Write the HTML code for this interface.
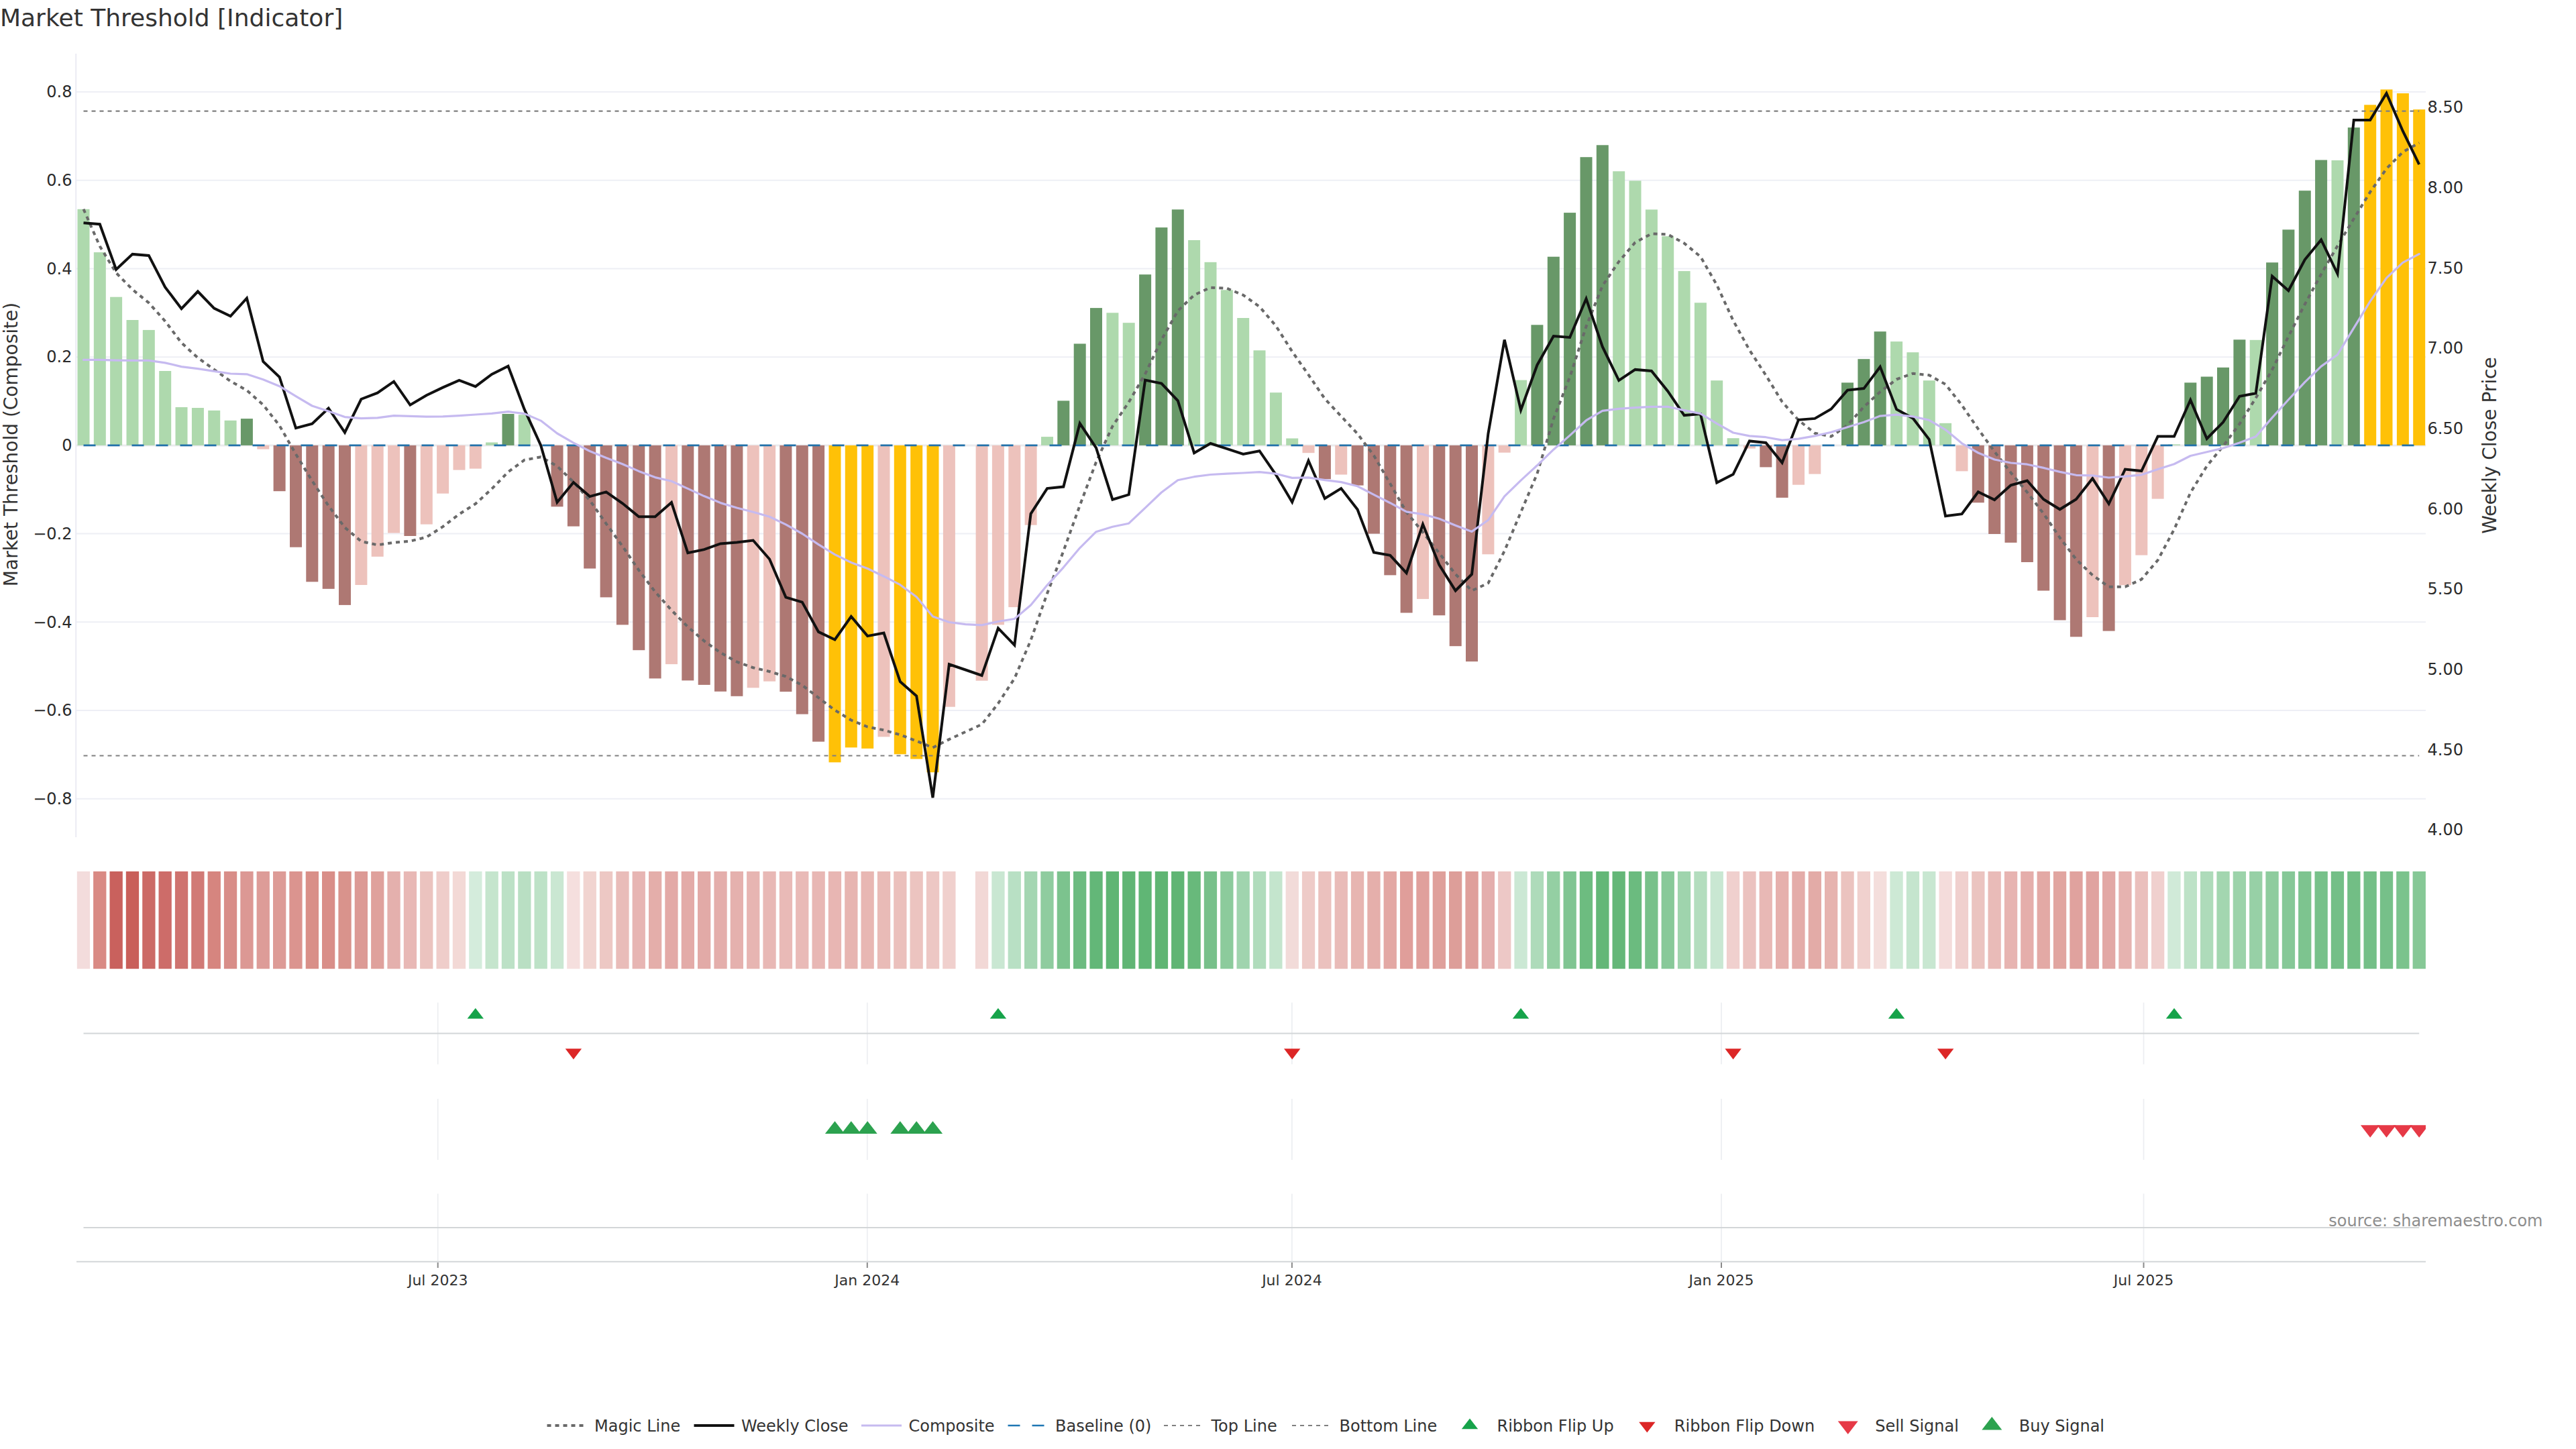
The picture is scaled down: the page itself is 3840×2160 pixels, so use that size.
<!DOCTYPE html><html><head><meta charset="utf-8"><title>Market Threshold [Indicator]</title>
<style>html,body{margin:0;padding:0;background:#fff;}svg{display:block;}text{font-family:"DejaVu Sans","Liberation Sans",sans-serif;}</style></head><body>
<svg width="3840" height="2160" viewBox="0 0 3840 2160">
<rect width="3840" height="2160" fill="#fff"/>
<g stroke="#eeeff5" stroke-width="2">
<line x1="114" x2="3616" y1="1190.7" y2="1190.7"/>
<line x1="114" x2="3616" y1="1059.0" y2="1059.0"/>
<line x1="114" x2="3616" y1="927.3" y2="927.3"/>
<line x1="114" x2="3616" y1="795.6" y2="795.6"/>
<line x1="114" x2="3616" y1="663.9" y2="663.9" stroke="#ebebee" stroke-width="3"/>
<line x1="114" x2="3616" y1="532.2" y2="532.2"/>
<line x1="114" x2="3616" y1="400.5" y2="400.5"/>
<line x1="114" x2="3616" y1="268.8" y2="268.8"/>
<line x1="114" x2="3616" y1="137.1" y2="137.1"/>
</g>
<line x1="113.2" x2="113.2" y1="80" y2="1248" stroke="#ebebf4" stroke-width="2"/>
<g>
<rect x="115.5" y="311.8" width="18.0" height="352.1" fill="#aed9ad"/>
<rect x="139.8" y="376.1" width="18.0" height="287.8" fill="#aed9ad"/>
<rect x="164.1" y="442.7" width="18.0" height="221.2" fill="#aed9ad"/>
<rect x="188.5" y="477.0" width="18.0" height="186.9" fill="#aed9ad"/>
<rect x="212.8" y="491.9" width="18.0" height="172.0" fill="#aed9ad"/>
<rect x="237.2" y="553.0" width="18.0" height="110.9" fill="#aed9ad"/>
<rect x="261.5" y="607.0" width="18.0" height="56.9" fill="#aed9ad"/>
<rect x="285.9" y="608.0" width="18.0" height="55.9" fill="#aed9ad"/>
<rect x="310.2" y="611.9" width="18.0" height="52.0" fill="#aed9ad"/>
<rect x="334.6" y="626.8" width="18.0" height="37.1" fill="#aed9ad"/>
<rect x="358.9" y="624.1" width="18.0" height="39.8" fill="#689868"/>
<rect x="383.3" y="663.9" width="18.0" height="5.7" fill="#edc2bc"/>
<rect x="407.6" y="663.9" width="18.0" height="68.3" fill="#ae7873"/>
<rect x="432.0" y="663.9" width="18.0" height="151.8" fill="#ae7873"/>
<rect x="456.3" y="663.9" width="18.0" height="203.4" fill="#ae7873"/>
<rect x="480.7" y="663.9" width="18.0" height="213.9" fill="#ae7873"/>
<rect x="505.0" y="663.9" width="18.0" height="238.0" fill="#ae7873"/>
<rect x="529.4" y="663.9" width="18.0" height="208.1" fill="#edc2bc"/>
<rect x="553.7" y="663.9" width="18.0" height="165.9" fill="#edc2bc"/>
<rect x="578.1" y="663.9" width="18.0" height="130.6" fill="#edc2bc"/>
<rect x="602.4" y="663.9" width="18.0" height="135.1" fill="#ae7873"/>
<rect x="626.8" y="663.9" width="18.0" height="117.7" fill="#edc2bc"/>
<rect x="651.1" y="663.9" width="18.0" height="71.8" fill="#edc2bc"/>
<rect x="675.5" y="663.9" width="18.0" height="36.7" fill="#edc2bc"/>
<rect x="699.8" y="663.9" width="18.0" height="34.7" fill="#edc2bc"/>
<rect x="724.1" y="659.5" width="18.0" height="4.4" fill="#aed9ad"/>
<rect x="748.5" y="617.0" width="18.0" height="46.9" fill="#689868"/>
<rect x="772.8" y="618.3" width="18.0" height="45.6" fill="#aed9ad"/>
<rect x="821.5" y="663.9" width="18.0" height="91.4" fill="#ae7873"/>
<rect x="845.9" y="663.9" width="18.0" height="120.7" fill="#ae7873"/>
<rect x="870.2" y="663.9" width="18.0" height="183.6" fill="#ae7873"/>
<rect x="894.6" y="663.9" width="18.0" height="226.5" fill="#ae7873"/>
<rect x="918.9" y="663.9" width="18.0" height="267.5" fill="#ae7873"/>
<rect x="943.3" y="663.9" width="18.0" height="305.3" fill="#ae7873"/>
<rect x="967.6" y="663.9" width="18.0" height="347.5" fill="#ae7873"/>
<rect x="992.0" y="663.9" width="18.0" height="326.2" fill="#edc2bc"/>
<rect x="1016.3" y="663.9" width="18.0" height="350.5" fill="#ae7873"/>
<rect x="1040.7" y="663.9" width="18.0" height="357.0" fill="#ae7873"/>
<rect x="1065.0" y="663.9" width="18.0" height="366.9" fill="#ae7873"/>
<rect x="1089.4" y="663.9" width="18.0" height="373.9" fill="#ae7873"/>
<rect x="1113.7" y="663.9" width="18.0" height="361.4" fill="#edc2bc"/>
<rect x="1138.1" y="663.9" width="18.0" height="351.8" fill="#edc2bc"/>
<rect x="1162.4" y="663.9" width="18.0" height="367.2" fill="#ae7873"/>
<rect x="1186.8" y="663.9" width="18.0" height="400.7" fill="#ae7873"/>
<rect x="1211.1" y="663.9" width="18.0" height="441.7" fill="#ae7873"/>
<rect x="1235.5" y="663.9" width="18.0" height="472.5" fill="#ffc107"/>
<rect x="1259.8" y="663.9" width="18.0" height="450.4" fill="#ffc107"/>
<rect x="1284.2" y="663.9" width="18.0" height="451.9" fill="#ffc107"/>
<rect x="1308.5" y="663.9" width="18.0" height="434.5" fill="#edc2bc"/>
<rect x="1332.8" y="663.9" width="18.0" height="460.4" fill="#ffc107"/>
<rect x="1357.2" y="663.9" width="18.0" height="467.5" fill="#ffc107"/>
<rect x="1381.5" y="663.9" width="18.0" height="487.4" fill="#ffc107"/>
<rect x="1405.9" y="663.9" width="18.0" height="389.8" fill="#edc2bc"/>
<rect x="1454.6" y="663.9" width="18.0" height="350.8" fill="#edc2bc"/>
<rect x="1478.9" y="663.9" width="18.0" height="267.5" fill="#edc2bc"/>
<rect x="1503.3" y="663.9" width="18.0" height="241.2" fill="#edc2bc"/>
<rect x="1527.6" y="663.9" width="18.0" height="118.8" fill="#edc2bc"/>
<rect x="1552.0" y="651.1" width="18.0" height="12.8" fill="#aed9ad"/>
<rect x="1576.3" y="597.4" width="18.0" height="66.5" fill="#689868"/>
<rect x="1600.7" y="512.4" width="18.0" height="151.5" fill="#689868"/>
<rect x="1625.0" y="459.1" width="18.0" height="204.8" fill="#689868"/>
<rect x="1649.4" y="466.3" width="18.0" height="197.6" fill="#aed9ad"/>
<rect x="1673.7" y="481.2" width="18.0" height="182.7" fill="#aed9ad"/>
<rect x="1698.1" y="409.2" width="18.0" height="254.7" fill="#689868"/>
<rect x="1722.4" y="339.1" width="18.0" height="324.8" fill="#689868"/>
<rect x="1746.8" y="312.3" width="18.0" height="351.6" fill="#689868"/>
<rect x="1771.1" y="358.0" width="18.0" height="305.9" fill="#aed9ad"/>
<rect x="1795.5" y="390.8" width="18.0" height="273.1" fill="#aed9ad"/>
<rect x="1819.8" y="432.3" width="18.0" height="231.6" fill="#aed9ad"/>
<rect x="1844.2" y="474.0" width="18.0" height="189.9" fill="#aed9ad"/>
<rect x="1868.5" y="522.3" width="18.0" height="141.6" fill="#aed9ad"/>
<rect x="1892.9" y="585.2" width="18.0" height="78.7" fill="#aed9ad"/>
<rect x="1917.2" y="653.5" width="18.0" height="10.4" fill="#aed9ad"/>
<rect x="1941.5" y="663.9" width="18.0" height="11.3" fill="#edc2bc"/>
<rect x="1965.9" y="663.9" width="18.0" height="50.3" fill="#ae7873"/>
<rect x="1990.2" y="663.9" width="18.0" height="43.6" fill="#edc2bc"/>
<rect x="2014.6" y="663.9" width="18.0" height="59.7" fill="#ae7873"/>
<rect x="2038.9" y="663.9" width="18.0" height="131.7" fill="#ae7873"/>
<rect x="2063.3" y="663.9" width="18.0" height="193.5" fill="#ae7873"/>
<rect x="2087.6" y="663.9" width="18.0" height="249.6" fill="#ae7873"/>
<rect x="2112.0" y="663.9" width="18.0" height="229.0" fill="#edc2bc"/>
<rect x="2136.3" y="663.9" width="18.0" height="253.4" fill="#ae7873"/>
<rect x="2160.7" y="663.9" width="18.0" height="299.3" fill="#ae7873"/>
<rect x="2185.0" y="663.9" width="18.0" height="322.2" fill="#ae7873"/>
<rect x="2209.4" y="663.9" width="18.0" height="162.4" fill="#edc2bc"/>
<rect x="2233.7" y="663.9" width="18.0" height="10.8" fill="#edc2bc"/>
<rect x="2258.1" y="566.6" width="18.0" height="97.3" fill="#aed9ad"/>
<rect x="2282.4" y="484.3" width="18.0" height="179.6" fill="#689868"/>
<rect x="2306.8" y="382.7" width="18.0" height="281.2" fill="#689868"/>
<rect x="2331.1" y="317.1" width="18.0" height="346.8" fill="#689868"/>
<rect x="2355.5" y="234.2" width="18.0" height="429.7" fill="#689868"/>
<rect x="2379.8" y="216.3" width="18.0" height="447.6" fill="#689868"/>
<rect x="2404.2" y="255.3" width="18.0" height="408.6" fill="#aed9ad"/>
<rect x="2428.5" y="269.4" width="18.0" height="394.5" fill="#aed9ad"/>
<rect x="2452.9" y="312.4" width="18.0" height="351.5" fill="#aed9ad"/>
<rect x="2477.2" y="352.2" width="18.0" height="311.7" fill="#aed9ad"/>
<rect x="2501.6" y="404.1" width="18.0" height="259.8" fill="#aed9ad"/>
<rect x="2525.9" y="451.3" width="18.0" height="212.6" fill="#aed9ad"/>
<rect x="2550.2" y="567.2" width="18.0" height="96.7" fill="#aed9ad"/>
<rect x="2574.6" y="653.2" width="18.0" height="10.7" fill="#aed9ad"/>
<rect x="2598.9" y="663.9" width="18.0" height="4.7" fill="#edc2bc"/>
<rect x="2623.3" y="663.9" width="18.0" height="32.5" fill="#ae7873"/>
<rect x="2647.6" y="663.9" width="18.0" height="78.0" fill="#ae7873"/>
<rect x="2672.0" y="663.9" width="18.0" height="58.8" fill="#edc2bc"/>
<rect x="2696.3" y="663.9" width="18.0" height="42.7" fill="#edc2bc"/>
<rect x="2745.0" y="570.4" width="18.0" height="93.5" fill="#689868"/>
<rect x="2769.4" y="535.2" width="18.0" height="128.7" fill="#689868"/>
<rect x="2793.7" y="494.2" width="18.0" height="169.7" fill="#689868"/>
<rect x="2818.1" y="509.1" width="18.0" height="154.8" fill="#aed9ad"/>
<rect x="2842.4" y="525.2" width="18.0" height="138.7" fill="#aed9ad"/>
<rect x="2866.8" y="567.2" width="18.0" height="96.7" fill="#aed9ad"/>
<rect x="2891.1" y="630.8" width="18.0" height="33.1" fill="#aed9ad"/>
<rect x="2915.5" y="663.9" width="18.0" height="38.5" fill="#edc2bc"/>
<rect x="2939.8" y="663.9" width="18.0" height="85.4" fill="#ae7873"/>
<rect x="2964.2" y="663.9" width="18.0" height="132.1" fill="#ae7873"/>
<rect x="2988.5" y="663.9" width="18.0" height="145.0" fill="#ae7873"/>
<rect x="3012.9" y="663.9" width="18.0" height="174.1" fill="#ae7873"/>
<rect x="3037.2" y="663.9" width="18.0" height="216.6" fill="#ae7873"/>
<rect x="3061.6" y="663.9" width="18.0" height="260.6" fill="#ae7873"/>
<rect x="3085.9" y="663.9" width="18.0" height="285.4" fill="#ae7873"/>
<rect x="3110.3" y="663.9" width="18.0" height="256.1" fill="#edc2bc"/>
<rect x="3134.6" y="663.9" width="18.0" height="276.7" fill="#ae7873"/>
<rect x="3158.9" y="663.9" width="18.0" height="208.4" fill="#edc2bc"/>
<rect x="3183.3" y="663.9" width="18.0" height="163.7" fill="#edc2bc"/>
<rect x="3207.6" y="663.9" width="18.0" height="79.7" fill="#edc2bc"/>
<rect x="3232.0" y="662.4" width="18.0" height="1.5" fill="#aed9ad"/>
<rect x="3256.3" y="570.4" width="18.0" height="93.5" fill="#689868"/>
<rect x="3280.7" y="561.5" width="18.0" height="102.4" fill="#689868"/>
<rect x="3305.0" y="547.8" width="18.0" height="116.1" fill="#689868"/>
<rect x="3329.4" y="506.3" width="18.0" height="157.6" fill="#689868"/>
<rect x="3353.7" y="506.8" width="18.0" height="157.1" fill="#aed9ad"/>
<rect x="3378.1" y="391.3" width="18.0" height="272.6" fill="#689868"/>
<rect x="3402.4" y="342.3" width="18.0" height="321.6" fill="#689868"/>
<rect x="3426.8" y="284.2" width="18.0" height="379.7" fill="#689868"/>
<rect x="3451.1" y="238.5" width="18.0" height="425.4" fill="#689868"/>
<rect x="3475.5" y="239.0" width="18.0" height="424.9" fill="#aed9ad"/>
<rect x="3499.8" y="190.1" width="18.0" height="473.8" fill="#689868"/>
<rect x="3524.2" y="156.3" width="18.0" height="507.6" fill="#ffc107"/>
<rect x="3548.5" y="133.4" width="18.0" height="530.5" fill="#ffc107"/>
<rect x="3572.9" y="139.1" width="18.0" height="524.8" fill="#ffc107"/>
<rect x="3597.2" y="163.2" width="18.0" height="500.7" fill="#ffc107"/>
</g>
<line x1="124.5" x2="3606.2" y1="663.9" y2="663.9" stroke="#2272aa" stroke-width="2.6" stroke-dasharray="18,18"/>
<line x1="124.5" x2="3606.2" y1="165.7" y2="165.7" stroke="#808080" stroke-width="2.2" stroke-dasharray="6,6"/>
<line x1="124.5" x2="3606.2" y1="1126.5" y2="1126.5" stroke="#808080" stroke-width="2.2" stroke-dasharray="6,6"/>
<path d="M124.5,311.8 L148.8,367.0 L173.1,406.7 L197.5,431.6 L221.8,451.4 L246.2,478.8 L270.5,511.0 L294.9,533.4 L319.2,550.8 L343.6,568.2 L367.9,581.9 L392.3,603.4 L416.6,634.4 L441.0,677.0 L465.3,716.8 L489.7,754.0 L514.0,786.3 L538.4,807.0 L562.7,812.4 L587.1,808.7 L611.4,806.7 L635.8,800.7 L660.1,785.1 L684.5,766.5 L708.8,751.0 L733.1,728.8 L757.5,703.6 L781.8,685.7 L806.2,681.2 L830.5,694.9 L854.9,718.5 L879.2,745.8 L903.6,780.6 L927.9,814.2 L952.3,850.0 L976.6,882.2 L1001.0,909.6 L1025.3,934.4 L1049.7,955.5 L1074.0,972.9 L1098.4,986.6 L1122.7,995.3 L1147.1,1001.0 L1171.4,1008.4 L1195.8,1021.4 L1220.1,1040.0 L1244.5,1058.6 L1268.8,1073.5 L1293.2,1083.5 L1317.5,1088.4 L1341.8,1095.3 L1366.2,1104.6 L1390.5,1114.5 L1414.9,1102.1 L1439.2,1090.9 L1463.6,1079.8 L1487.9,1048.7 L1512.3,1011.4 L1536.6,954.3 L1561.0,884.7 L1585.3,821.5 L1609.7,753.4 L1634.0,688.8 L1658.4,635.4 L1682.7,599.4 L1707.1,557.5 L1731.4,506.5 L1755.8,463.4 L1780.1,439.8 L1804.5,428.6 L1828.8,429.8 L1853.2,439.8 L1877.5,457.1 L1901.9,485.7 L1926.2,524.0 L1950.5,558.7 L1974.9,594.4 L1999.2,620.5 L2023.6,646.6 L2047.9,678.9 L2072.3,721.1 L2096.6,763.5 L2121.0,793.3 L2145.3,824.5 L2169.7,856.0 L2194.0,880.5 L2218.4,869.3 L2242.7,821.3 L2267.1,763.5 L2291.4,706.2 L2315.8,624.2 L2340.1,562.1 L2364.5,486.6 L2388.8,426.0 L2413.2,390.0 L2437.5,361.4 L2461.9,348.4 L2486.2,349.4 L2510.6,362.6 L2534.9,382.5 L2559.2,424.7 L2583.6,477.7 L2607.9,521.8 L2632.3,559.3 L2656.6,599.0 L2681.0,626.3 L2705.3,645.7 L2729.7,650.7 L2754.0,633.8 L2778.4,606.5 L2802.7,584.1 L2827.1,565.5 L2851.4,556.8 L2875.8,559.3 L2900.1,572.9 L2924.5,604.0 L2948.8,639.4 L2973.2,673.3 L2997.5,704.6 L3021.9,733.8 L3046.2,765.5 L3070.6,801.5 L3094.9,833.8 L3119.3,857.4 L3143.6,874.8 L3167.9,874.8 L3192.3,863.6 L3216.6,835.0 L3241.0,789.1 L3265.3,734.4 L3289.7,694.7 L3314.0,665.0 L3338.4,632.0 L3362.7,593.3 L3387.1,551.1 L3411.4,501.4 L3435.8,453.5 L3460.1,408.7 L3484.5,366.5 L3508.8,326.0 L3533.2,286.2 L3557.5,251.4 L3581.9,226.6 L3606.2,212.9" fill="none" stroke="#696969" stroke-width="4" stroke-dasharray="6,6" stroke-linejoin="round"/>
<path d="M124.5,332.2 L148.8,334.2 L173.1,401.7 L197.5,378.9 L221.8,380.9 L246.2,428.1 L270.5,460.1 L294.9,434.5 L319.2,459.6 L343.6,471.3 L367.9,444.5 L392.3,538.9 L416.6,562.0 L441.0,638.2 L465.3,631.7 L489.7,608.5 L514.0,644.7 L538.4,595.0 L562.7,585.6 L587.1,568.7 L611.4,603.7 L635.8,589.3 L660.1,577.6 L684.5,567.0 L708.8,576.2 L733.1,558.0 L757.5,545.8 L781.8,610.4 L806.2,663.9 L830.5,748.8 L854.9,719.0 L879.2,740.1 L903.6,733.4 L927.9,750.3 L952.3,770.2 L976.6,770.2 L1001.0,749.1 L1025.3,824.1 L1049.7,819.1 L1074.0,810.4 L1098.4,808.4 L1122.7,805.5 L1147.1,833.5 L1171.4,890.4 L1195.8,897.6 L1220.1,941.9 L1244.5,953.5 L1268.8,919.0 L1293.2,948.1 L1317.5,943.5 L1341.8,1016.0 L1366.2,1037.5 L1390.5,1189.1 L1414.9,990.3 L1439.2,998.5 L1463.6,1007.0 L1487.9,936.4 L1512.3,961.7 L1536.6,765.8 L1561.0,728.1 L1585.3,725.6 L1609.7,631.2 L1634.0,667.7 L1658.4,744.7 L1682.7,737.3 L1707.1,566.6 L1731.4,571.6 L1755.8,597.4 L1780.1,675.2 L1804.5,661.0 L1828.8,668.9 L1853.2,676.9 L1877.5,672.2 L1901.9,707.5 L1926.2,748.4 L1950.5,686.8 L1974.9,743.0 L1999.2,728.1 L2023.6,759.6 L2047.9,823.5 L2072.3,827.8 L2096.6,854.2 L2121.0,781.5 L2145.3,841.8 L2169.7,880.5 L2194.0,856.0 L2218.4,646.6 L2242.7,506.5 L2267.1,611.3 L2291.4,544.2 L2315.8,501.1 L2340.1,503.0 L2364.5,445.3 L2388.8,517.0 L2413.2,567.1 L2437.5,550.9 L2461.9,552.9 L2486.2,583.2 L2510.6,619.1 L2534.9,617.1 L2559.2,719.5 L2583.6,707.1 L2607.9,657.4 L2632.3,659.9 L2656.6,689.7 L2681.0,625.8 L2705.3,623.9 L2729.7,609.7 L2754.0,581.6 L2778.4,579.1 L2802.7,546.8 L2827.1,610.2 L2851.4,623.4 L2875.8,655.1 L2900.1,769.2 L2924.5,766.2 L2948.8,733.2 L2973.2,745.1 L2997.5,723.2 L3021.9,716.5 L3046.2,744.3 L3070.6,759.3 L3094.9,744.3 L3119.3,713.3 L3143.6,751.0 L3167.9,699.6 L3192.3,702.1 L3216.6,650.6 L3241.0,650.6 L3265.3,596.3 L3289.7,654.0 L3314.0,629.3 L3338.4,590.8 L3362.7,586.3 L3387.1,411.8 L3411.4,433.3 L3435.8,387.0 L3460.1,357.4 L3484.5,408.1 L3508.8,178.9 L3533.2,178.9 L3557.5,139.1 L3581.9,195.5 L3606.2,245.2" fill="none" stroke="#111" stroke-width="4" stroke-linejoin="miter" stroke-miterlimit="4"/>
<path d="M124.5,536.4 L148.8,536.4 L173.1,537.1 L197.5,537.4 L221.8,537.4 L246.2,540.9 L270.5,546.6 L294.9,549.6 L319.2,553.3 L343.6,557.0 L367.9,557.8 L392.3,565.7 L416.6,575.7 L441.0,590.6 L465.3,605.0 L489.7,612.9 L514.0,621.6 L538.4,623.6 L562.7,622.9 L587.1,619.6 L611.4,620.4 L635.8,621.1 L660.1,620.9 L684.5,619.6 L708.8,618.0 L733.1,616.3 L757.5,613.7 L781.8,616.6 L806.2,627.1 L830.5,646.0 L854.9,660.1 L879.2,672.5 L903.6,682.5 L927.9,691.7 L952.3,702.4 L976.6,711.6 L1001.0,717.3 L1025.3,728.4 L1049.7,739.6 L1074.0,749.6 L1098.4,757.0 L1122.7,763.2 L1147.1,770.2 L1171.4,781.9 L1195.8,795.5 L1220.1,811.7 L1244.5,826.6 L1268.8,838.5 L1293.2,847.5 L1317.5,859.2 L1341.8,871.7 L1366.2,889.7 L1390.5,919.0 L1414.9,927.5 L1439.2,930.7 L1463.6,931.9 L1487.9,926.5 L1512.3,922.5 L1536.6,902.1 L1561.0,872.3 L1585.3,845.8 L1609.7,816.8 L1634.0,792.7 L1658.4,785.2 L1682.7,780.2 L1707.1,757.1 L1731.4,734.0 L1755.8,715.7 L1780.1,710.7 L1804.5,707.5 L1828.8,706.2 L1853.2,705.0 L1877.5,703.7 L1901.9,706.2 L1926.2,712.4 L1950.5,711.9 L1974.9,715.7 L1999.2,718.6 L2023.6,724.8 L2047.9,737.3 L2072.3,749.7 L2096.6,762.9 L2121.0,766.6 L2145.3,773.3 L2169.7,783.2 L2194.0,792.4 L2218.4,775.3 L2242.7,739.8 L2267.1,716.1 L2291.4,693.8 L2315.8,670.2 L2340.1,649.1 L2364.5,626.7 L2388.8,612.3 L2413.2,609.3 L2437.5,607.6 L2461.9,606.3 L2486.2,606.3 L2510.6,611.6 L2534.9,616.6 L2559.2,631.3 L2583.6,645.0 L2607.9,649.9 L2632.3,651.7 L2656.6,656.1 L2681.0,654.2 L2705.3,649.9 L2729.7,644.2 L2754.0,636.8 L2778.4,629.3 L2802.7,620.1 L2827.1,618.1 L2851.4,620.9 L2875.8,626.3 L2900.1,640.6 L2924.5,660.8 L2948.8,675.0 L2973.2,685.0 L2997.5,690.0 L3021.9,692.2 L3046.2,697.4 L3070.6,703.4 L3094.9,708.3 L3119.3,708.8 L3143.6,712.0 L3167.9,710.1 L3192.3,707.8 L3216.6,699.6 L3241.0,691.7 L3265.3,679.5 L3289.7,673.7 L3314.0,668.0 L3338.4,659.9 L3362.7,650.8 L3387.1,622.6 L3411.4,595.8 L3435.8,569.7 L3460.1,546.1 L3484.5,528.7 L3508.8,488.9 L3533.2,449.2 L3557.5,414.3 L3581.9,391.3 L3606.2,378.6" fill="none" stroke="#c6baf0" stroke-width="3.2" stroke-linejoin="round" stroke-linecap="round"/>
<g>
<rect x="114.8" y="1299" width="19.3" height="145.2" fill="#f3dcdc"/>
<rect x="139.1" y="1299" width="19.3" height="145.2" fill="#d98a84"/>
<rect x="163.5" y="1299" width="19.3" height="145.2" fill="#c9615d"/>
<rect x="187.8" y="1299" width="19.3" height="145.2" fill="#c95f5a"/>
<rect x="212.2" y="1299" width="19.3" height="145.2" fill="#cc6a66"/>
<rect x="236.5" y="1299" width="19.3" height="145.2" fill="#cd6c69"/>
<rect x="260.9" y="1299" width="19.3" height="145.2" fill="#cf736f"/>
<rect x="285.2" y="1299" width="19.3" height="145.2" fill="#d17a76"/>
<rect x="309.6" y="1299" width="19.3" height="145.2" fill="#d6857f"/>
<rect x="333.9" y="1299" width="19.3" height="145.2" fill="#d88d88"/>
<rect x="358.3" y="1299" width="19.3" height="145.2" fill="#dc9894"/>
<rect x="382.6" y="1299" width="19.3" height="145.2" fill="#dd9c98"/>
<rect x="407.0" y="1299" width="19.3" height="145.2" fill="#dd9b96"/>
<rect x="431.3" y="1299" width="19.3" height="145.2" fill="#db948f"/>
<rect x="455.7" y="1299" width="19.3" height="145.2" fill="#d98f88"/>
<rect x="480.0" y="1299" width="19.3" height="145.2" fill="#d98e88"/>
<rect x="504.4" y="1299" width="19.3" height="145.2" fill="#d9938c"/>
<rect x="528.7" y="1299" width="19.3" height="145.2" fill="#dc9a95"/>
<rect x="553.1" y="1299" width="19.3" height="145.2" fill="#dfa19c"/>
<rect x="577.4" y="1299" width="19.3" height="145.2" fill="#e4b0ad"/>
<rect x="601.8" y="1299" width="19.3" height="145.2" fill="#e8b8b5"/>
<rect x="626.1" y="1299" width="19.3" height="145.2" fill="#ebc3bf"/>
<rect x="650.5" y="1299" width="19.3" height="145.2" fill="#efcdca"/>
<rect x="674.8" y="1299" width="19.3" height="145.2" fill="#f3d9d6"/>
<rect x="699.2" y="1299" width="19.3" height="145.2" fill="#d4ecdc"/>
<rect x="723.5" y="1299" width="19.3" height="145.2" fill="#c5e5cd"/>
<rect x="747.8" y="1299" width="19.3" height="145.2" fill="#bce1c6"/>
<rect x="772.2" y="1299" width="19.3" height="145.2" fill="#b9dfc3"/>
<rect x="796.5" y="1299" width="19.3" height="145.2" fill="#bde2c7"/>
<rect x="820.9" y="1299" width="19.3" height="145.2" fill="#cae7d2"/>
<rect x="845.2" y="1299" width="19.3" height="145.2" fill="#f5dfde"/>
<rect x="869.6" y="1299" width="19.3" height="145.2" fill="#f1d4d0"/>
<rect x="893.9" y="1299" width="19.3" height="145.2" fill="#edc8c4"/>
<rect x="918.3" y="1299" width="19.3" height="145.2" fill="#e9bcb9"/>
<rect x="942.6" y="1299" width="19.3" height="145.2" fill="#e7b5b3"/>
<rect x="967.0" y="1299" width="19.3" height="145.2" fill="#e4aeaa"/>
<rect x="991.3" y="1299" width="19.3" height="145.2" fill="#e3a9a6"/>
<rect x="1015.7" y="1299" width="19.3" height="145.2" fill="#e3aba8"/>
<rect x="1040.0" y="1299" width="19.3" height="145.2" fill="#e2aaa7"/>
<rect x="1064.4" y="1299" width="19.3" height="145.2" fill="#e4aeab"/>
<rect x="1088.7" y="1299" width="19.3" height="145.2" fill="#e5b1ae"/>
<rect x="1113.1" y="1299" width="19.3" height="145.2" fill="#e7b5b2"/>
<rect x="1137.4" y="1299" width="19.3" height="145.2" fill="#e8b8b5"/>
<rect x="1161.8" y="1299" width="19.3" height="145.2" fill="#e9bab7"/>
<rect x="1186.1" y="1299" width="19.3" height="145.2" fill="#e9bab7"/>
<rect x="1210.5" y="1299" width="19.3" height="145.2" fill="#e8b7b4"/>
<rect x="1234.8" y="1299" width="19.3" height="145.2" fill="#e8b6b3"/>
<rect x="1259.2" y="1299" width="19.3" height="145.2" fill="#e7b5b1"/>
<rect x="1283.5" y="1299" width="19.3" height="145.2" fill="#e8b7b3"/>
<rect x="1307.9" y="1299" width="19.3" height="145.2" fill="#e9bbb7"/>
<rect x="1332.2" y="1299" width="19.3" height="145.2" fill="#ebc0bc"/>
<rect x="1356.5" y="1299" width="19.3" height="145.2" fill="#ecc4c0"/>
<rect x="1380.9" y="1299" width="19.3" height="145.2" fill="#edc7c4"/>
<rect x="1405.2" y="1299" width="19.3" height="145.2" fill="#f0d0cd"/>
<rect x="1453.9" y="1299" width="19.3" height="145.2" fill="#f2d8d6"/>
<rect x="1478.3" y="1299" width="19.3" height="145.2" fill="#c9e7d2"/>
<rect x="1502.6" y="1299" width="19.3" height="145.2" fill="#b8e0c4"/>
<rect x="1527.0" y="1299" width="19.3" height="145.2" fill="#a4d6b2"/>
<rect x="1551.3" y="1299" width="19.3" height="145.2" fill="#8fcc9f"/>
<rect x="1575.7" y="1299" width="19.3" height="145.2" fill="#7cc38e"/>
<rect x="1600.0" y="1299" width="19.3" height="145.2" fill="#6cbb80"/>
<rect x="1624.4" y="1299" width="19.3" height="145.2" fill="#63b778"/>
<rect x="1648.7" y="1299" width="19.3" height="145.2" fill="#5fb574"/>
<rect x="1673.1" y="1299" width="19.3" height="145.2" fill="#60b574"/>
<rect x="1697.4" y="1299" width="19.3" height="145.2" fill="#60b675"/>
<rect x="1721.8" y="1299" width="19.3" height="145.2" fill="#5fb573"/>
<rect x="1746.1" y="1299" width="19.3" height="145.2" fill="#60b574"/>
<rect x="1770.5" y="1299" width="19.3" height="145.2" fill="#68b97b"/>
<rect x="1794.8" y="1299" width="19.3" height="145.2" fill="#77c08a"/>
<rect x="1819.2" y="1299" width="19.3" height="145.2" fill="#8ccb9c"/>
<rect x="1843.5" y="1299" width="19.3" height="145.2" fill="#a0d4ae"/>
<rect x="1867.9" y="1299" width="19.3" height="145.2" fill="#b0dcbc"/>
<rect x="1892.2" y="1299" width="19.3" height="145.2" fill="#c4e5cd"/>
<rect x="1916.6" y="1299" width="19.3" height="145.2" fill="#f2dbd9"/>
<rect x="1940.9" y="1299" width="19.3" height="145.2" fill="#eecbc8"/>
<rect x="1965.2" y="1299" width="19.3" height="145.2" fill="#ebc1be"/>
<rect x="1989.6" y="1299" width="19.3" height="145.2" fill="#e9bbb8"/>
<rect x="2013.9" y="1299" width="19.3" height="145.2" fill="#e7b5b1"/>
<rect x="2038.3" y="1299" width="19.3" height="145.2" fill="#e5afab"/>
<rect x="2062.6" y="1299" width="19.3" height="145.2" fill="#e3a8a4"/>
<rect x="2087.0" y="1299" width="19.3" height="145.2" fill="#e09e9a"/>
<rect x="2111.3" y="1299" width="19.3" height="145.2" fill="#e0a09c"/>
<rect x="2135.7" y="1299" width="19.3" height="145.2" fill="#dfa09b"/>
<rect x="2160.0" y="1299" width="19.3" height="145.2" fill="#dd9e99"/>
<rect x="2184.4" y="1299" width="19.3" height="145.2" fill="#df9f9b"/>
<rect x="2208.7" y="1299" width="19.3" height="145.2" fill="#e4aead"/>
<rect x="2233.1" y="1299" width="19.3" height="145.2" fill="#edc8c6"/>
<rect x="2257.4" y="1299" width="19.3" height="145.2" fill="#cbe8d4"/>
<rect x="2281.8" y="1299" width="19.3" height="145.2" fill="#aedbba"/>
<rect x="2306.1" y="1299" width="19.3" height="145.2" fill="#94cfa3"/>
<rect x="2330.5" y="1299" width="19.3" height="145.2" fill="#80c592"/>
<rect x="2354.8" y="1299" width="19.3" height="145.2" fill="#6dbc80"/>
<rect x="2379.2" y="1299" width="19.3" height="145.2" fill="#63b777"/>
<rect x="2403.5" y="1299" width="19.3" height="145.2" fill="#64b778"/>
<rect x="2427.9" y="1299" width="19.3" height="145.2" fill="#6bbb7f"/>
<rect x="2452.2" y="1299" width="19.3" height="145.2" fill="#78c18a"/>
<rect x="2476.6" y="1299" width="19.3" height="145.2" fill="#88c999"/>
<rect x="2500.9" y="1299" width="19.3" height="145.2" fill="#9fd4ad"/>
<rect x="2525.3" y="1299" width="19.3" height="145.2" fill="#b3ddbe"/>
<rect x="2549.6" y="1299" width="19.3" height="145.2" fill="#c9e7d2"/>
<rect x="2573.9" y="1299" width="19.3" height="145.2" fill="#f0d0ce"/>
<rect x="2598.3" y="1299" width="19.3" height="145.2" fill="#ebc2bf"/>
<rect x="2622.6" y="1299" width="19.3" height="145.2" fill="#e8b8b5"/>
<rect x="2647.0" y="1299" width="19.3" height="145.2" fill="#e6b0ad"/>
<rect x="2671.3" y="1299" width="19.3" height="145.2" fill="#e4aca9"/>
<rect x="2695.7" y="1299" width="19.3" height="145.2" fill="#e3aba7"/>
<rect x="2720.0" y="1299" width="19.3" height="145.2" fill="#e6b3af"/>
<rect x="2744.4" y="1299" width="19.3" height="145.2" fill="#ebc3bf"/>
<rect x="2768.7" y="1299" width="19.3" height="145.2" fill="#f0d1ce"/>
<rect x="2793.1" y="1299" width="19.3" height="145.2" fill="#f4dedc"/>
<rect x="2817.4" y="1299" width="19.3" height="145.2" fill="#cde9d5"/>
<rect x="2841.8" y="1299" width="19.3" height="145.2" fill="#c5e5ce"/>
<rect x="2866.1" y="1299" width="19.3" height="145.2" fill="#c8e7d1"/>
<rect x="2890.5" y="1299" width="19.3" height="145.2" fill="#f4dcdb"/>
<rect x="2914.8" y="1299" width="19.3" height="145.2" fill="#f0d0ce"/>
<rect x="2939.2" y="1299" width="19.3" height="145.2" fill="#ebc4c0"/>
<rect x="2963.5" y="1299" width="19.3" height="145.2" fill="#e9bbb8"/>
<rect x="2987.9" y="1299" width="19.3" height="145.2" fill="#e7b4b1"/>
<rect x="3012.2" y="1299" width="19.3" height="145.2" fill="#e5aeab"/>
<rect x="3036.6" y="1299" width="19.3" height="145.2" fill="#e3a9a5"/>
<rect x="3060.9" y="1299" width="19.3" height="145.2" fill="#e1a5a0"/>
<rect x="3085.3" y="1299" width="19.3" height="145.2" fill="#e0a29e"/>
<rect x="3109.6" y="1299" width="19.3" height="145.2" fill="#e0a3a0"/>
<rect x="3134.0" y="1299" width="19.3" height="145.2" fill="#e2a8a5"/>
<rect x="3158.3" y="1299" width="19.3" height="145.2" fill="#e6b3b0"/>
<rect x="3182.6" y="1299" width="19.3" height="145.2" fill="#eabfbc"/>
<rect x="3207.0" y="1299" width="19.3" height="145.2" fill="#f0d0ce"/>
<rect x="3231.3" y="1299" width="19.3" height="145.2" fill="#d0ead8"/>
<rect x="3255.7" y="1299" width="19.3" height="145.2" fill="#bde2c7"/>
<rect x="3280.0" y="1299" width="19.3" height="145.2" fill="#aedbba"/>
<rect x="3304.4" y="1299" width="19.3" height="145.2" fill="#a3d6b0"/>
<rect x="3328.7" y="1299" width="19.3" height="145.2" fill="#9cd3aa"/>
<rect x="3353.1" y="1299" width="19.3" height="145.2" fill="#97d0a6"/>
<rect x="3377.4" y="1299" width="19.3" height="145.2" fill="#8ecc9e"/>
<rect x="3401.8" y="1299" width="19.3" height="145.2" fill="#86c897"/>
<rect x="3426.1" y="1299" width="19.3" height="145.2" fill="#7dc48f"/>
<rect x="3450.5" y="1299" width="19.3" height="145.2" fill="#77c18a"/>
<rect x="3474.8" y="1299" width="19.3" height="145.2" fill="#74bf87"/>
<rect x="3499.2" y="1299" width="19.3" height="145.2" fill="#72be85"/>
<rect x="3523.5" y="1299" width="19.3" height="145.2" fill="#74bf87"/>
<rect x="3547.9" y="1299" width="19.3" height="145.2" fill="#76c089"/>
<rect x="3572.2" y="1299" width="19.3" height="145.2" fill="#7bc38d"/>
<rect x="3596.6" y="1299" width="19.3" height="145.2" fill="#86c896"/>
</g>
<g stroke="#eceef1" stroke-width="1.7">
<line x1="652.7" x2="652.7" y1="1494.5" y2="1586.6"/>
<line x1="652.7" x2="652.7" y1="1638.0" y2="1729.0"/>
<line x1="652.7" x2="652.7" y1="1779.4" y2="1880.7"/>
<line x1="1292.8" x2="1292.8" y1="1494.5" y2="1586.6"/>
<line x1="1292.8" x2="1292.8" y1="1638.0" y2="1729.0"/>
<line x1="1292.8" x2="1292.8" y1="1779.4" y2="1880.7"/>
<line x1="1925.9" x2="1925.9" y1="1494.5" y2="1586.6"/>
<line x1="1925.9" x2="1925.9" y1="1638.0" y2="1729.0"/>
<line x1="1925.9" x2="1925.9" y1="1779.4" y2="1880.7"/>
<line x1="2566.0" x2="2566.0" y1="1494.5" y2="1586.6"/>
<line x1="2566.0" x2="2566.0" y1="1638.0" y2="1729.0"/>
<line x1="2566.0" x2="2566.0" y1="1779.4" y2="1880.7"/>
<line x1="3195.5" x2="3195.5" y1="1494.5" y2="1586.6"/>
<line x1="3195.5" x2="3195.5" y1="1638.0" y2="1729.0"/>
<line x1="3195.5" x2="3195.5" y1="1779.4" y2="1880.7"/>
</g>
<line x1="124.5" x2="3606.2" y1="1540.5" y2="1540.5" stroke="#d3d6d8" stroke-width="2.1"/>
<line x1="124.5" x2="3606.2" y1="1830.0" y2="1830.0" stroke="#d3d6d8" stroke-width="2.1"/>
<line x1="114" x2="3616" y1="1880.8" y2="1880.8" stroke="#d3d6d8" stroke-width="2.1"/>
<line x1="652.7" x2="652.7" y1="1882" y2="1890" stroke="#8a8a8a" stroke-width="2"/>
<text x="652.7" y="1915.9" font-size="22" fill="#333" text-anchor="middle">Jul 2023</text>
<line x1="1292.8" x2="1292.8" y1="1882" y2="1890" stroke="#8a8a8a" stroke-width="2"/>
<text x="1292.8" y="1915.9" font-size="22" fill="#333" text-anchor="middle">Jan 2024</text>
<line x1="1925.9" x2="1925.9" y1="1882" y2="1890" stroke="#8a8a8a" stroke-width="2"/>
<text x="1925.9" y="1915.9" font-size="22" fill="#333" text-anchor="middle">Jul 2024</text>
<line x1="2566.0" x2="2566.0" y1="1882" y2="1890" stroke="#8a8a8a" stroke-width="2"/>
<text x="2566.0" y="1915.9" font-size="22" fill="#333" text-anchor="middle">Jan 2025</text>
<line x1="3195.5" x2="3195.5" y1="1882" y2="1890" stroke="#8a8a8a" stroke-width="2"/>
<text x="3195.5" y="1915.9" font-size="22" fill="#333" text-anchor="middle">Jul 2025</text>
<path d="M696.6,1518.6 H721.0 L708.8,1502.7 Z" fill="#16a34a"/>
<path d="M1475.7,1518.6 H1500.2 L1487.9,1502.7 Z" fill="#16a34a"/>
<path d="M2254.8,1518.6 H2279.3 L2267.1,1502.7 Z" fill="#16a34a"/>
<path d="M2814.8,1518.6 H2839.3 L2827.1,1502.7 Z" fill="#16a34a"/>
<path d="M3228.8,1518.6 H3253.2 L3241.0,1502.7 Z" fill="#16a34a"/>
<path d="M842.7,1563.3 H867.1 L854.9,1579.2 Z" fill="#dc2626"/>
<path d="M1914.0,1563.3 H1938.4 L1926.2,1579.2 Z" fill="#dc2626"/>
<path d="M2571.4,1563.3 H2595.8 L2583.6,1579.2 Z" fill="#dc2626"/>
<path d="M2887.9,1563.3 H2912.4 L2900.1,1579.2 Z" fill="#dc2626"/>
<path d="M1229.9,1690.1 H1259.0 L1244.5,1671.2 Z" fill="#2ca24f"/>
<path d="M1254.3,1690.1 H1283.4 L1268.8,1671.2 Z" fill="#2ca24f"/>
<path d="M1278.6,1690.1 H1307.7 L1293.2,1671.2 Z" fill="#2ca24f"/>
<path d="M1327.3,1690.1 H1356.4 L1341.8,1671.2 Z" fill="#2ca24f"/>
<path d="M1351.6,1690.1 H1380.7 L1366.2,1671.2 Z" fill="#2ca24f"/>
<path d="M1376.0,1690.1 H1405.1 L1390.5,1671.2 Z" fill="#2ca24f"/>
<clipPath id="cp"><rect x="114" y="1600" width="3502" height="200"/></clipPath><g clip-path="url(#cp)">
<path d="M3518.9,1677.2 H3547.5 L3533.2,1695.8 Z" fill="#e63946"/>
<path d="M3543.2,1677.2 H3571.8 L3557.5,1695.8 Z" fill="#e63946"/>
<path d="M3567.5,1677.2 H3596.2 L3581.9,1695.8 Z" fill="#e63946"/>
<path d="M3591.9,1677.2 H3620.5 L3606.2,1695.8 Z" fill="#e63946"/>
</g>
<text x="0" y="39.4" font-size="36" fill="#333">Market Threshold [Indicator]</text>
<text x="107.5" y="1198.9" font-size="24" fill="#2b2b2b" text-anchor="end">−0.8</text>
<text x="107.5" y="1067.2" font-size="24" fill="#2b2b2b" text-anchor="end">−0.6</text>
<text x="107.5" y="935.5" font-size="24" fill="#2b2b2b" text-anchor="end">−0.4</text>
<text x="107.5" y="803.8" font-size="24" fill="#2b2b2b" text-anchor="end">−0.2</text>
<text x="107.5" y="672.1" font-size="24" fill="#2b2b2b" text-anchor="end">0</text>
<text x="107.5" y="540.4" font-size="24" fill="#2b2b2b" text-anchor="end">0.2</text>
<text x="107.5" y="408.7" font-size="24" fill="#2b2b2b" text-anchor="end">0.4</text>
<text x="107.5" y="277.0" font-size="24" fill="#2b2b2b" text-anchor="end">0.6</text>
<text x="107.5" y="145.3" font-size="24" fill="#2b2b2b" text-anchor="end">0.8</text>
<text x="3618.6" y="1245.2" font-size="24" fill="#2b2b2b">4.00</text>
<text x="3618.6" y="1125.5" font-size="24" fill="#2b2b2b">4.50</text>
<text x="3618.6" y="1005.8" font-size="24" fill="#2b2b2b">5.00</text>
<text x="3618.6" y="886.2" font-size="24" fill="#2b2b2b">5.50</text>
<text x="3618.6" y="766.5" font-size="24" fill="#2b2b2b">6.00</text>
<text x="3618.6" y="646.9" font-size="24" fill="#2b2b2b">6.50</text>
<text x="3618.6" y="527.2" font-size="24" fill="#2b2b2b">7.00</text>
<text x="3618.6" y="407.6" font-size="24" fill="#2b2b2b">7.50</text>
<text x="3618.6" y="287.9" font-size="24" fill="#2b2b2b">8.00</text>
<text x="3618.6" y="168.3" font-size="24" fill="#2b2b2b">8.50</text>
<text transform="translate(25.5,662.5) rotate(-90)" font-size="28" fill="#333" text-anchor="middle">Market Threshold (Composite)</text>
<text transform="translate(3720.8,664) rotate(-90)" font-size="28" fill="#333" text-anchor="middle">Weekly Close Price</text>
<text x="3790.5" y="1827.5" font-size="24" fill="#8e8e8e" text-anchor="end">source: sharemaestro.com</text>
<line x1="815.5" x2="875.5" y1="2125" y2="2125" stroke="#696969" stroke-width="4" stroke-dasharray="6,6"/>
<text x="886.0" y="2133.8" font-size="24" fill="#333">Magic Line</text>
<line x1="1034.5" x2="1094.5" y1="2125" y2="2125" stroke="#111" stroke-width="4"/>
<text x="1105.0" y="2133.8" font-size="24" fill="#333">Weekly Close</text>
<line x1="1284.0" x2="1344.0" y1="2125" y2="2125" stroke="#c6baf0" stroke-width="3.2"/>
<text x="1354.5" y="2133.8" font-size="24" fill="#333">Composite</text>
<line x1="1502.5" x2="1562.5" y1="2125" y2="2125" stroke="#1f77b4" stroke-width="2.6" stroke-dasharray="18,18"/>
<text x="1573.0" y="2133.8" font-size="24" fill="#333">Baseline (0)</text>
<line x1="1735.0" x2="1795.0" y1="2125" y2="2125" stroke="#808080" stroke-width="2.2" stroke-dasharray="6,6"/>
<text x="1805.5" y="2133.8" font-size="24" fill="#333">Top Line</text>
<line x1="1926.0" x2="1986.0" y1="2125" y2="2125" stroke="#808080" stroke-width="2.2" stroke-dasharray="6,6"/>
<text x="1996.5" y="2133.8" font-size="24" fill="#333">Bottom Line</text>
<path d="M2178.8,2130.3 H2203.2 L2191.0,2114.4 Z" fill="#16a34a"/>
<text x="2231.5" y="2133.8" font-size="24" fill="#333">Ribbon Flip Up</text>
<path d="M2443.1,2119.7 H2467.5 L2455.3,2135.6 Z" fill="#dc2626"/>
<text x="2495.8" y="2133.8" font-size="24" fill="#333">Ribbon Flip Down</text>
<path d="M2739.7,2118.5 H2769.7 L2754.7,2138.0 Z" fill="#e63946"/>
<text x="2795.2" y="2133.8" font-size="24" fill="#333">Sell Signal</text>
<path d="M2954.3,2131.5 H2984.3 L2969.3,2112.0 Z" fill="#2ca24f"/>
<text x="3009.8" y="2133.8" font-size="24" fill="#333">Buy Signal</text>
</svg></body></html>
